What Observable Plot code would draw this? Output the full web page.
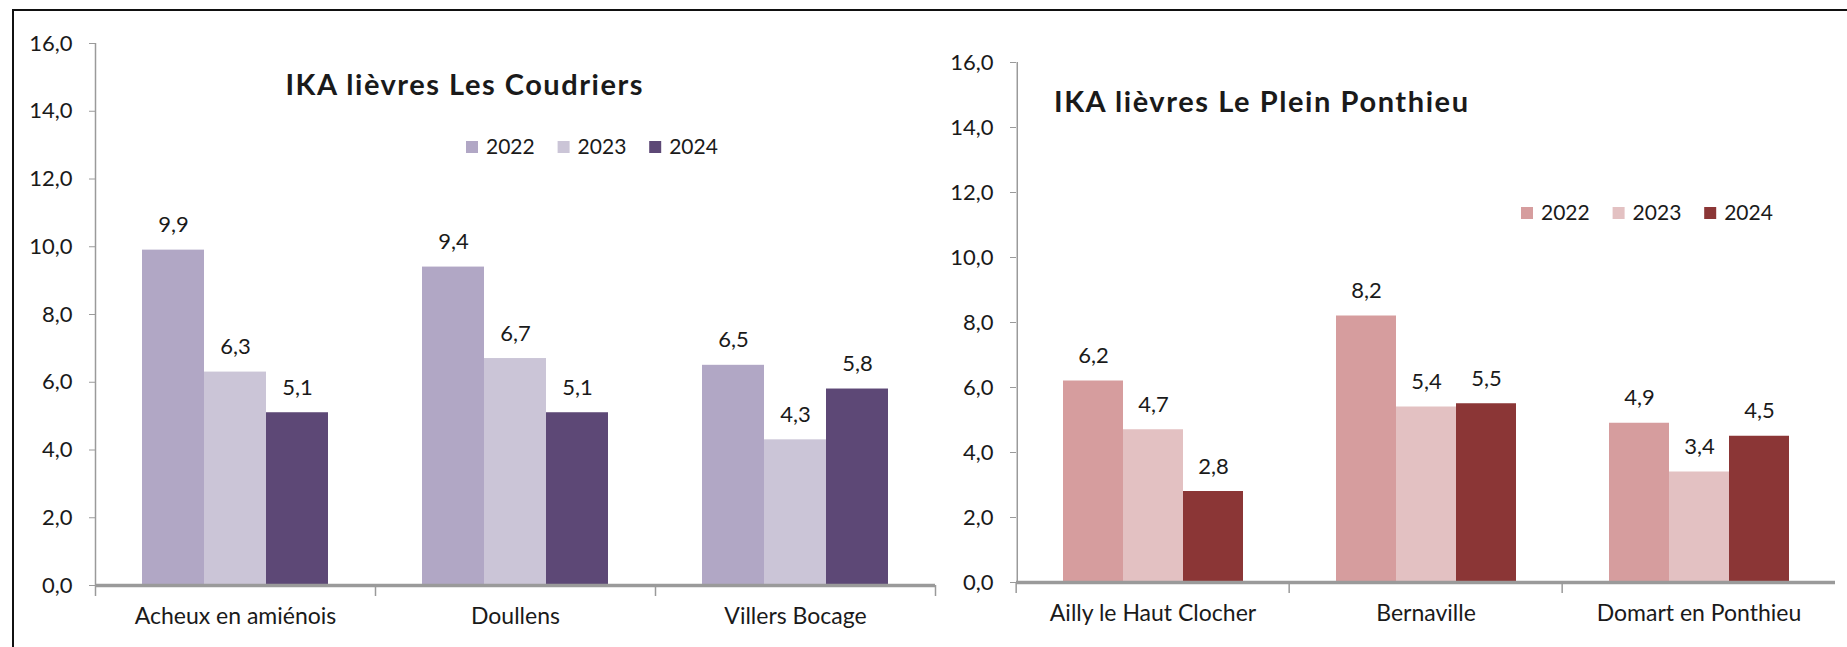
<!DOCTYPE html>
<html><head><meta charset="utf-8">
<script src="https://cdn.jsdelivr.net/npm/d3@7"></script>
<script src="https://cdn.jsdelivr.net/npm/@observablehq/plot@0.6"></script>
<style>
body{margin:0;background:#fff;}
#wrap{position:relative;width:1847px;height:647px;overflow:hidden;font-family:Lato,sans-serif;background:#fff;}
#wrap > *{position:absolute;top:0;}
</style></head><body><div id="wrap"></div>
<script>
const years = ["2022", "2023", "2024"];
const yTicks = [0, 2, 4, 6, 8, 10, 12, 14, 16];

const coudriersTitle = "IKA lièvres Les Coudriers";
const coudriersSites = ["Acheux en amiénois", "Doullens", "Villers Bocage"];
const coudriers2022 = [9.9, 9.4, 6.5];
const coudriers2023 = [6.3, 6.7, 4.3];
const coudriers2024 = [5.1, 5.1, 5.8];
const coudriersColors = ["#b1a7c5", "#cbc5d7", "#5d4876"];

const ponthieuTitle = "IKA lièvres Le Plein Ponthieu";
const ponthieuSites = ["Ailly le Haut Clocher", "Bernaville", "Domart en Ponthieu"];
const ponthieu2022 = [6.2, 8.2, 4.9];
const ponthieu2023 = [4.7, 5.4, 3.4];
const ponthieu2024 = [2.8, 5.5, 4.5];
const ponthieuColors = ["#d69d9e", "#e3c1c2", "#8b3636"];

const fmt = d => d.toFixed(1).replace(".", ",");
const AXIS = "#9a9a9a";
const TEXT = "#1a1a1a";

function makeChart({sites, series, colors, width, marginLeft, marginRight, marginTop, marginBottom, endTick}) {
  const rows = sites.flatMap((s, i) => years.map((y, j) => ({site: s, year: y, value: series[j][i]})));
  const po = 0.758;
  const W = (width - marginLeft - marginRight) / sites.length;
  const bw = W / (years.length + 2 * po);
  const firstCenter = po * bw + bw / 2;
  return Plot.plot({
    width, height: 647, marginLeft, marginRight, marginTop, marginBottom,
    style: {background: "transparent", fontFamily: "Lato, sans-serif", fontSize: "22px", color: TEXT, overflow: "visible"},
    fx: {domain: sites, padding: 0, axis: null, label: null},
    x: {domain: years, paddingInner: 0, paddingOuter: po, axis: null},
    y: {domain: [0, 16], axis: null, label: null},
    color: {domain: years, range: colors},
    marks: [
      Plot.barY(rows, {fx: "site", x: "year", y: "value", fill: "year"}),
      Plot.ruleY([0], {stroke: AXIS, strokeWidth: 3.5}),
      Plot.ruleX([sites[0]], {fx: d => d, x: () => years[0], dx: -firstCenter, y1: 0, y2: 16, stroke: AXIS, strokeWidth: 1.5}),
      Plot.axisY({ticks: yTicks, tickFormat: fmt, tickSize: 6, tickPadding: 17, stroke: AXIS, fontSize: 22, fill: TEXT, label: null}),
      Plot.axisFx({anchor: "bottom", ticks: sites, tickFormat: () => "", tickSize: 11, dx: -W / 2, stroke: AXIS, strokeWidth: 1.5, label: null}),
      endTick ? Plot.axisFx({anchor: "bottom", ticks: [sites[sites.length - 1]], tickFormat: () => "", tickSize: 11, dx: W / 2, stroke: AXIS, strokeWidth: 1.5, label: null}) : null,
      Plot.text(sites, {fx: d => d, text: d => d, frameAnchor: "bottom", dy: 38, lineAnchor: "bottom", fontSize: 23, fill: TEXT}),
      Plot.text(rows, {fx: "site", x: "year", y: "value", text: d => fmt(d.value), dy: -18, lineAnchor: "bottom", fontSize: 22, fill: TEXT})
    ]
  });
}

const wrap = document.getElementById("wrap");

const left = makeChart({
  sites: coudriersSites, series: [coudriers2022, coudriers2023, coudriers2024], colors: coudriersColors,
  width: 940, marginLeft: 95, marginRight: 5, marginTop: 43, marginBottom: 62, endTick: true
});
left.style.left = "0px";
wrap.appendChild(left);

const right = makeChart({
  sites: ponthieuSites, series: [ponthieu2022, ponthieu2023, ponthieu2024], colors: ponthieuColors,
  width: 907, marginLeft: 75, marginRight: 11, marginTop: 62, marginBottom: 65, endTick: false
});
right.style.left = "940px";
wrap.appendChild(right);

// titles and legends overlay
const overlay = d3.create("svg").attr("width", 1847).attr("height", 647)
  .style("left", "0px").style("pointer-events", "none")
  .style("font-family", "Lato, sans-serif");

overlay.append("text").attr("x", 464).attr("y", 95).attr("text-anchor", "middle")
  .attr("font-size", 29).attr("font-weight", 700).attr("fill", TEXT)
  .attr("textLength", 357).attr("lengthAdjust", "spacing").text(coudriersTitle);
overlay.append("text").attr("x", 1054).attr("y", 112).attr("text-anchor", "start")
  .attr("font-size", 29).attr("font-weight", 700).attr("fill", TEXT)
  .attr("textLength", 414).attr("lengthAdjust", "spacing").text(ponthieuTitle);

function legend(x0, yc, colors) {
  const g = overlay.append("g");
  years.forEach((y, i) => {
    const x = x0 + i * 91.6;
    g.append("rect").attr("x", x).attr("y", yc - 6).attr("width", 12).attr("height", 12).attr("fill", colors[i]);
    g.append("text").attr("x", x + 20).attr("y", yc + 7).attr("font-size", 21).attr("fill", TEXT).text(y);
  });
}
legend(466, 147, coudriersColors);
legend(1521, 213, ponthieuColors);
wrap.appendChild(overlay.node());

const border = document.createElement("div");
border.style.cssText = "left:12px;top:9px;width:1900px;height:700px;border-top:2.5px solid #111;border-left:2.5px solid #111;";
wrap.appendChild(border);
</script>
</body></html>
